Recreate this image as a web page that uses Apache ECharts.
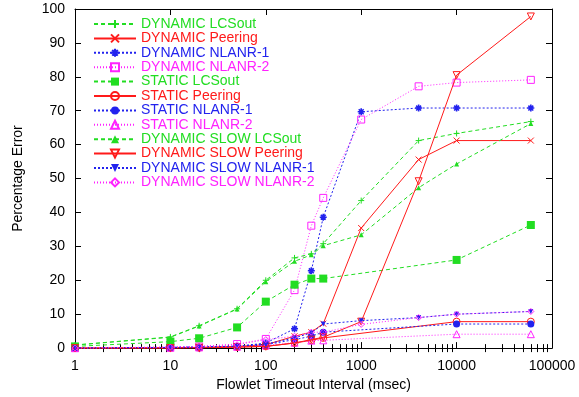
<!DOCTYPE html>
<html><head><meta charset="utf-8">
<script src="https://cdn.jsdelivr.net/npm/echarts@6/dist/echarts.min.js"></script>
<style>html,body{margin:0;padding:0;background:#fff}#c{width:579px;height:397px}</style>
</head><body><div id="c"></div>
<script>
// x positions (msec)
const xDynamic = [1, 10, 20, 50, 100, 200, 300, 400, 1000, 4000, 10000, 60000];
const xStatic  = [1, 10, 20, 50, 100, 200, 300, 400, 10000, 60000];

const seriesNames = [
  'DYNAMIC LCSout', 'DYNAMIC Peering', 'DYNAMIC NLANR-1', 'DYNAMIC NLANR-2',
  'STATIC LCSout', 'STATIC Peering', 'STATIC NLANR-1', 'STATIC NLANR-2',
  'DYNAMIC SLOW LCSout', 'DYNAMIC SLOW Peering', 'DYNAMIC SLOW NLANR-1', 'DYNAMIC SLOW NLANR-2'
];

const dynLCSout      = [0.9, 3.3, 6.6, 11.6, 20.0, 26.6, 27.8, 30.8, 43.5, 61.2, 63.3, 66.8];
const dynPeering     = [0, 0.1, 0.2, 0.5, 1.0, 3.5, 4.7, 7.2, 35.4, 55.6, 61.2, 61.2];
const dynNlanr1      = [0, 0.2, 0.3, 0.5, 1.5, 5.7, 22.8, 38.6, 69.7, 70.8, 70.8, 70.8];
const dynNlanr2      = [0, 0.3, 0.5, 1.2, 2.7, 17.1, 36.1, 44.3, 67.4, 77.2, 78.3, 79.1];
const staLCSout      = [0.5, 1.9, 2.9, 6.1, 13.7, 18.7, 20.5, 20.5, 26.0, 36.3];
const staPeering     = [0, 0, 0.1, 0.3, 0.5, 1.5, 2.3, 3.0, 7.8, 7.8];
const staNlanr1      = [0, 0.1, 0.2, 0.5, 1.0, 2.5, 3.5, 4.7, 7.1, 7.1];
const staNlanr2      = [0, 0.1, 0.2, 0.4, 0.8, 1.6, 2.2, 2.3, 4.1, 4.1];
const slowLCSout     = [0.9, 3.2, 6.5, 11.5, 19.6, 25.6, 27.5, 30.2, 33.4, 47.3, 54.3, 66.2];
const slowPeering    = [0, 0, 0.1, 0.3, 0.5, 1.5, 2.5, 3.2, 7.8, 49.2, 80.5, 97.8];
const slowNlanr1     = [0, 0.2, 0.3, 0.6, 1.2, 3.0, 4.5, 7.1, 8.1, 9.0, 10.0, 10.8];
const slowNlanr2     = [0, 0.3, 0.5, 1.0, 2.5, 3.5, 4.7, 4.7, 7.0, 9.0, 10.0, 10.8];

const xTickLabels = [1, 10, 100, 1000, 10000, 100000];

const GREEN = '#22dd22', RED = '#ff1a1a', BLUE = '#2222ee', MAG = '#ff22ff';
const FONT = '"Liberation Sans", Arial, sans-serif';

const minorVals = [];
for (let k = 0; k < 5; k++) for (let m = 2; m <= 9; m++) minorVals.push(m * Math.pow(10, k));

const PLUS = 'path://M5,0L5,10M0,5L10,5';
const CROSS = 'path://M0,0L10,10M10,0L0,10';
const STAR = 'path://M5,0L5,10M0,5L10,5M1.5,1.5L8.5,8.5M8.5,1.5L1.5,8.5';
const NONE = 'rgba(255,255,255,0)';

const styles = [
  {xs: xDynamic, v: dynLCSout,   c: GREEN, dash: [4,3], sym: PLUS, size: 6, fill: GREEN, bw: 1},
  {xs: xDynamic, v: dynPeering,  c: RED,   dash: 'solid', sym: CROSS, size: 6, fill: RED, bw: 1},
  {xs: xDynamic, v: dynNlanr1,   c: BLUE,  dash: [2,2], sym: STAR, size: 7, fill: BLUE, bw: 1.6},
  {xs: xDynamic, v: dynNlanr2,   c: MAG,   dash: [1,2], sym: 'rect', size: 7, fill: NONE, bw: 1},
  {xs: xStatic,  v: staLCSout,   c: GREEN, dash: [4,3], sym: 'rect', size: 8, fill: GREEN, bw: 0},
  {xs: xStatic,  v: staPeering,  c: RED,   dash: 'solid', sym: 'circle', size: 7, fill: NONE, bw: 1},
  {xs: xStatic,  v: staNlanr1,   c: BLUE,  dash: [2,2], sym: 'circle', size: 7, fill: BLUE, bw: 0},
  {xs: xStatic,  v: staNlanr2,   c: MAG,   dash: [1,2], sym: 'triangle', size: 7, fill: NONE, bw: 1},
  {xs: xDynamic, v: slowLCSout,  c: GREEN, dash: [4,3], sym: 'triangle', size: 5, fill: GREEN, bw: 0},
  {xs: xDynamic, v: slowPeering, c: RED,   dash: 'solid', sym: 'triangle', size: 7, fill: NONE, bw: 1, rot: 180},
  {xs: xDynamic, v: slowNlanr1,  c: BLUE,  dash: [2,2], sym: 'triangle', size: 5, fill: BLUE, bw: 0, rot: 180},
  {xs: xDynamic, v: slowNlanr2,  c: MAG,   dash: [1,2], sym: 'diamond', size: 6, fill: NONE, bw: 1}
];

const series = styles.map((s, i) => ({
  name: seriesNames[i],
  type: 'line',
  xAxisIndex: 0, yAxisIndex: 0,
  data: s.xs.map((x, j) => [x, s.v[j]]),
  symbol: s.sym,
  symbolSize: s.size,
  symbolRotate: s.rot || 0,
  showAllSymbol: true,
  lineStyle: {color: s.c, width: 1, type: s.dash},
  itemStyle: {color: s.fill, borderColor: s.c, borderWidth: s.bw},
  emphasis: {disabled: true},
  z: 2 + i
}));

const axisLine = {show: true, onZero: false, lineStyle: {color: '#000', width: 1}};
const labelStyle = {color: '#000', fontFamily: FONT, fontSize: 14};

const option = {
  animation: false,
  backgroundColor: '#fff',
  textStyle: {fontFamily: FONT},
  grid: {left: 75, right: 27, top: 9, bottom: 46, containLabel: false},
  legend: {
    orient: 'vertical', left: 88, top: 12,
    itemWidth: 42, itemHeight: 10, itemGap: 0.4,
    textStyle: {fontSize: 14, lineHeight: 14, fontFamily: FONT},
    data: seriesNames.map((n, i) => ({name: n, textStyle: {color: styles[i].c}}))
  },
  xAxis: [
    {type: 'log', logBase: 10, min: 1, max: 100000, position: 'bottom',
     name: 'Flowlet Timeout Interval (msec)', nameLocation: 'middle', nameGap: 24,
     nameTextStyle: {color: '#000', fontSize: 14, fontFamily: FONT},
     axisLine, splitLine: {show: false},
     axisTick: {show: true, inside: true, length: 6, lineStyle: {color: '#000'}, customValues: xTickLabels},
     axisLabel: Object.assign({margin: 11, formatter: v => String(v), customValues: xTickLabels}, labelStyle)},
    {type: 'log', logBase: 10, min: 1, max: 100000, position: 'bottom',
     axisLine: {show: false}, splitLine: {show: false}, axisLabel: {show: false},
     axisTick: {show: true, inside: true, length: 4, lineStyle: {color: '#000'}, customValues: minorVals}},
    {type: 'log', logBase: 10, min: 1, max: 100000, position: 'top',
     axisLine, splitLine: {show: false}, axisLabel: {show: false},
     axisTick: {show: true, inside: true, length: 6, lineStyle: {color: '#000'}, customValues: xTickLabels}},
    {type: 'log', logBase: 10, min: 1, max: 100000, position: 'top',
     axisLine: {show: false}, splitLine: {show: false}, axisLabel: {show: false},
     axisTick: {show: true, inside: true, length: 4, lineStyle: {color: '#000'}, customValues: minorVals}}
  ],
  yAxis: [
    {type: 'value', min: 0, max: 100, interval: 10, position: 'left',
     name: 'Percentage Error', nameLocation: 'middle', nameGap: 50, nameRotate: 90,
     nameTextStyle: {color: '#000', fontSize: 14, fontFamily: FONT},
     axisLine, splitLine: {show: false},
     axisTick: {show: true, inside: true, length: 6, lineStyle: {color: '#000'}},
     axisLabel: Object.assign({margin: 10}, labelStyle)},
    {type: 'value', min: 0, max: 100, interval: 10, position: 'right',
     axisLine, splitLine: {show: false}, axisLabel: {show: false},
     axisTick: {show: true, inside: true, length: 6, lineStyle: {color: '#000'}}}
  ],
  series
};

const chart = echarts.init(document.getElementById('c'), null, {renderer: 'canvas'});
chart.setOption(option);
</script>
</body></html>
